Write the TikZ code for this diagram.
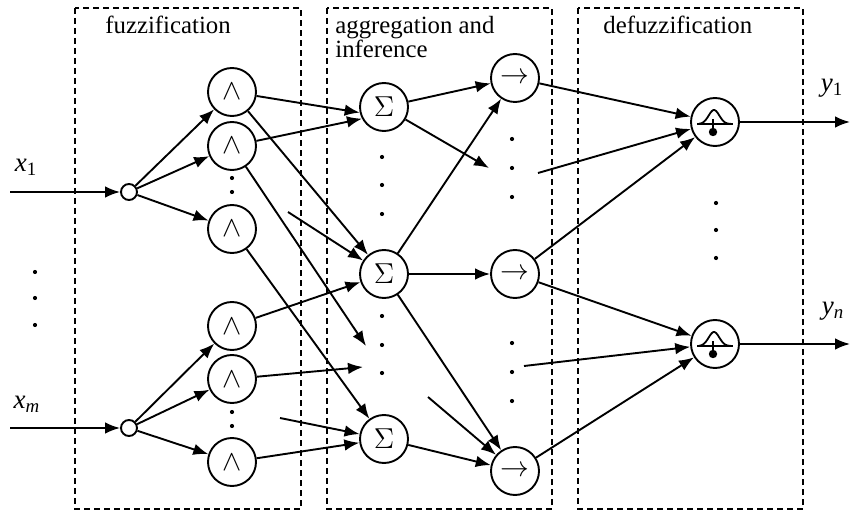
\documentclass[tikz,border=0pt]{standalone}
\usepackage{fontspec}
\setmainfont{Liberation Serif}
\usetikzlibrary{arrows.meta}

\begin{document}
\begin{tikzpicture}[x=0.5pt,y=-0.5pt,
  font=\fontsize{13.5}{15}\selectfont,
  neuron/.style={draw,circle,line width=0.95pt,minimum size=24pt,inner sep=0pt},
  inlet/.style={draw,circle,line width=0.95pt,minimum size=8pt,inner sep=0pt},
  conn/.style={line width=0.95pt,-{Latex[length=7.5pt,width=5.8pt]}},
  layer/.style={line width=0.75pt,dash pattern=on 3pt off 2pt},
  title/.style={anchor=north west,inner sep=0pt,align=left,font=\fontsize{12.4}{11.8}\selectfont}]

\useasboundingbox (0,0) rectangle (851,513);

\draw[layer] (75,8) rectangle (301,509);
\draw[layer] (327,8) rectangle (552,509);
\draw[layer] (578,8) rectangle (803,509);

\node[title] (tfuz) at (105,16) {fuzzification};
\node[title] (tagg) at (335,16) {aggregation and\\inference};
\node[title] (tdef) at (603,16) {defuzzification};

\node[inlet] (in1) at (129,192) {};
\node[inlet] (in2) at (129,428) {};
\coordinate (xs1) at (10,192);
\coordinate (xs2) at (10,428);
\node (x1) at (26,167) {\textit{x}\textsubscript{1}};
\node (xm) at (27,404) {\textit{x}\textsubscript{\textit{m}}};

\foreach \n/\y in {A1/92,A2/146,A3/229,A4/326,A5/379,A6/462}
  \node[neuron] (\n) at (232,\y) {$\wedge$};
\foreach \n/\y in {S1/107,S2/274,S3/439}
  \node[neuron] (\n) at (384,\y) {$\Sigma$};
\foreach \n/\y in {R1/78,R2/274,R3/471}
  \node[neuron] (\n) at (515,\y) {$\rightarrow$};
\node[neuron] (D1) at (715,122) {};
\node[neuron] (D2) at (715,344) {};

\foreach \d in {D1,D2} {
  \begin{scope}[shift={(\d)},line width=0.9pt]
    \draw (-18,2) -- (18,2);
    \draw plot[domain=-16:16,samples=40,smooth] (\x,{2-14*exp(-((\x+1)/7.5)^2)});
    \draw (-2,-3) -- (-2,8);
    \fill (-2,10) circle (2.1pt);
  \end{scope}
}

\foreach \x/\y in {35/272,35/298,35/325,232/178,232/192,232/412,232/426,
  382/157,382/185,382/214,382/316,382/345,382/373,
  512/139,512/168,512/197,512/343,512/372,512/401,
  716/203,716/230,716/258}
  \fill (\x,\y) circle (1.05pt);

\coordinate (d2) at (366,346);
\coordinate (d5) at (363,367);
\coordinate (f1) at (288,212);
\coordinate (f2) at (280,418);
\coordinate (e1) at (489,168);
\coordinate (f3) at (428,397);
\coordinate (f4) at (538,173);
\coordinate (f5) at (524,366);
\coordinate (o1) at (850,122);
\coordinate (o2) at (850,344);

\node (y1) at (832,88) {\textit{y}\textsubscript{1}};
\node (yn) at (833,311) {\textit{y}\textsubscript{\textit{n}}};

\draw[conn] (xs1) -- (in1);
\draw[conn] (xs2) -- (in2);
\foreach \n in {A1,A2,A3} \draw[conn] (in1) -- (\n);
\foreach \n in {A4,A5,A6} \draw[conn] (in2) -- (\n);

\draw[conn] (A1) -- (S1.193);
\draw[conn] (A1) -- (S2);
\draw[conn] (A2) -- (S1.208);
\draw[conn] (A2) -- (d2);
\draw[conn] (A3) -- (S3);
\draw[conn] (f1) -- (S2);
\draw[conn] (A4) -- (S2);
\draw[conn] (A5) -- (d5);
\draw[conn] (A6) -- (S3);
\draw[conn] (f2) -- (S3);

\draw[conn] (S1) -- (R1);
\draw[conn] (S1) -- (e1);
\draw[conn] (S2) -- (R1);
\draw[conn] (S2) -- (R2);
\draw[conn] (S2) -- (R3);
\draw[conn] (f3) -- (R3);
\draw[conn] (S3) -- (R3);

\draw[conn] (R1) -- (D1);
\draw[conn] (f4) -- (D1);
\draw[conn] (R2) -- (D1);
\draw[conn] (R2) -- (D2);
\draw[conn] (f5) -- (D2);
\draw[conn] (R3) -- (D2);
\draw[conn] (D1) -- (o1);
\draw[conn] (D2) -- (o2);

\end{tikzpicture}
\end{document}
